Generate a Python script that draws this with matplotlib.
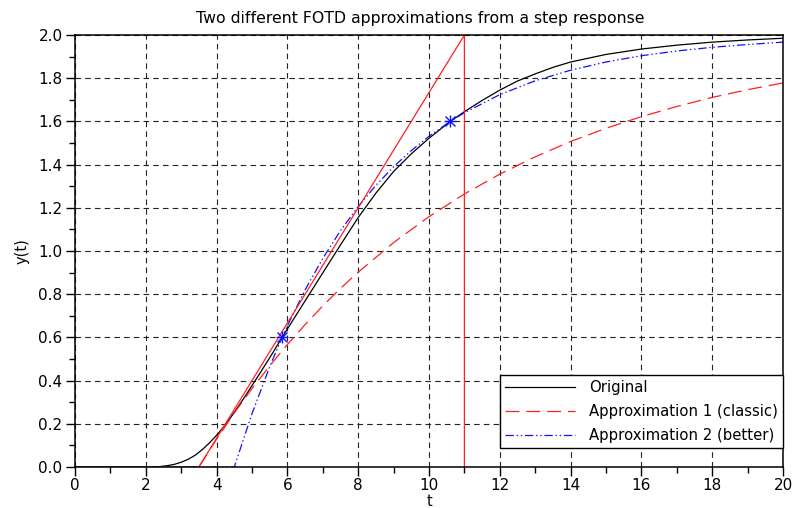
import matplotlib
matplotlib.use("Agg")
import matplotlib.pyplot as plt
from matplotlib.ticker import MultipleLocator, FormatStrFormatter

plt.rcParams['font.family'] = ['DejaVu Sans']
plt.rcParams['lines.scale_dashes'] = False

# ---- data ----
t_orig = [0, 2.0, 2.2, 2.4, 2.6, 2.8, 3.0, 3.2, 3.4, 3.6, 3.8, 4.0, 4.2, 4.4, 4.6, 4.8,
          5.0, 5.2, 5.4, 5.6, 5.85, 6.0, 6.5, 7.0, 7.5, 8.0, 8.5, 9.0, 9.5, 10.0,
          10.6, 11.0, 11.5, 12.0, 12.5, 13.0, 13.5, 14.0, 15.0, 16.0, 17.0, 18.0, 19.0, 20.0]
y_orig = [0, 0.0, 0.0, 0.002, 0.006, 0.012, 0.022, 0.036, 0.055, 0.081, 0.112, 0.147, 0.186,
          0.230, 0.277, 0.326, 0.377, 0.428, 0.480, 0.532, 0.600, 0.639, 0.769, 0.899,
          1.028, 1.155, 1.268, 1.368, 1.450, 1.522, 1.600, 1.645, 1.697, 1.745, 1.787,
          1.820, 1.850, 1.875, 1.910, 1.935, 1.953, 1.967, 1.977, 1.985]

t_app1 = [0, 3.5, 4.0, 4.5, 5.0, 5.5, 6.0, 6.5, 7.0, 7.5, 8.0, 9.0, 10.0, 11.0, 12.0,
          13.0, 14.0, 15.0, 16.0, 17.0, 18.0, 19.0, 20.0]
y_app1 = [0, 0.0, 0.129, 0.250, 0.363, 0.468, 0.567, 0.659, 0.746, 0.827, 0.902, 1.039,
          1.159, 1.264, 1.356, 1.436, 1.507, 1.568, 1.622, 1.669, 1.711, 1.747, 1.778]

t_app2 = [0, 4.5, 5.0, 5.5, 5.85, 6.0, 6.5, 7.0, 7.5, 8.0, 8.5, 9.0, 9.5, 10.0, 10.6,
          11.0, 12.0, 13.0, 14.0, 15.0, 16.0, 17.0, 18.0, 19.0, 20.0]
y_app2 = [0, 0.0, 0.247, 0.464, 0.600, 0.654, 0.820, 0.966, 1.094, 1.206, 1.304, 1.390,
          1.465, 1.531, 1.600, 1.640, 1.724, 1.788, 1.837, 1.875, 1.904, 1.926, 1.943,
          1.956, 1.967]

t_tangent = [3.5, 11.0, 11.0]
y_tangent = [0.0, 2.0, 0.0]

t_points = [5.85, 10.6]
y_points = [0.6, 1.6]

labels = ["Original", "Approximation 1 (classic)", "Approximation 2 (better)"]
title = "Two different FOTD approximations from a step response"

# ---- figure ----
fig = plt.figure(figsize=(7.97, 5.08), dpi=100)
ax = fig.add_axes([75/797, 1-467/508, 708/797, 432/508])

ax.grid(True, which='major', color='#222222', linewidth=0.8, linestyle=(0, (4, 3)))
ax.set_axisbelow(True)

l0, = ax.plot(t_orig, y_orig, color='black', linewidth=0.9, label=labels[0])
l1, = ax.plot(t_app1, y_app1, color='#ff2020', linewidth=0.9, dashes=(10, 5), label=labels[1])
l2, = ax.plot(t_app2, y_app2, color='#1010ff', linewidth=0.9,
              dashes=(6, 2, 1, 2, 1, 2), label=labels[2])
ax.plot(t_tangent, y_tangent, color='#ff2020', linewidth=0.9)
ax.plot(t_points, y_points, linestyle='none', marker='+', markersize=9,
        markeredgewidth=1.0, color='#1010ff')
ax.plot(t_points, y_points, linestyle='none', marker='x', markersize=7,
        markeredgewidth=1.0, color='#1010ff')

ax.set_xlim(0, 20)
ax.set_ylim(0, 2.0)
ax.xaxis.set_major_locator(MultipleLocator(2))
ax.xaxis.set_minor_locator(MultipleLocator(1))
ax.yaxis.set_major_locator(MultipleLocator(0.2))
ax.yaxis.set_minor_locator(MultipleLocator(0.1))
ax.yaxis.set_major_formatter(FormatStrFormatter('%.1f'))
ax.tick_params(axis='both', which='major', direction='out', length=6.5, width=1.0,
               labelsize=11, colors='black')
ax.tick_params(axis='both', which='minor', direction='out', length=4, width=1.0)
ax.tick_params(axis='x', which='major', pad=1.5)
ax.tick_params(axis='y', which='major', pad=2.5)
for s in ax.spines.values():
    s.set_linewidth(1.1)

ax.set_xlabel('t', fontsize=10.5, labelpad=0.5)
ax.set_ylabel('y(t)', fontsize=10.5, labelpad=6)
ttl = ax.set_title(title, fontsize=11.3, pad=9)
ttl.set_x((420 - 75) / 708)

leg = ax.legend(handles=[l0, l1, l2], loc='lower right', bbox_to_anchor=(1.0, 0.044),
                borderaxespad=0, fancybox=False, framealpha=1, edgecolor='black',
                fontsize=10.7, handlelength=4.7, handletextpad=1.0, labelspacing=0.62,
                borderpad=0.32)
leg.get_frame().set_linewidth(1.0)

fig.savefig('out.png', dpi=100)
